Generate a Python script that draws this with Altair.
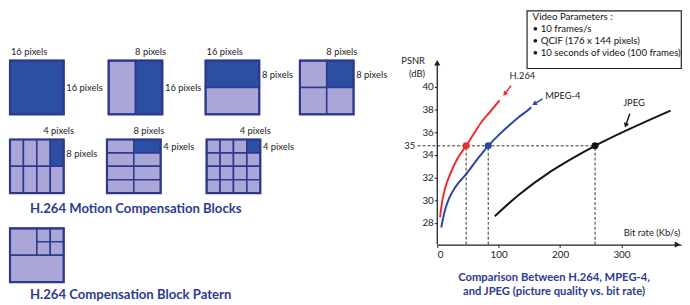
import altair as alt
import pandas as pd

# ---------------- right chart: PSNR vs bit rate ----------------
codecs = ["H.264", "MPEG-4", "JPEG"]
codec_colors = ["#ee2b2e", "#2b46a3", "#151515"]

h264_rate = [4.5, 8, 13, 21, 32, 47, 60, 72, 86, 101.5]
h264_psnr = [28.5, 29.9, 31.1, 32.3, 33.6, 34.8, 35.9, 36.9, 37.8, 38.8]
mpeg4_rate = [6.5, 9, 13, 18.7, 30, 47, 65, 83, 99, 115, 132, 150, 153]
mpeg4_psnr = [27.6, 28.3, 29.2, 30.1, 31.2, 32.3, 33.6, 34.8, 35.7, 36.5, 37.3, 38.05, 38.2]
jpeg_rate = [93.7, 131, 185, 220, 257, 310, 380]
jpeg_psnr = [28.6, 30.4, 32.55, 33.7, 34.8, 36.2, 37.9]

match_rate = [47, 83, 257]
match_psnr = [34.8, 34.8, 34.8]

y_ticks = [28, 30, 32, 34, 36, 38, 40]
x_ticks = [0, 100, 200, 300]

legend_lines = ["Video Parameters :", "• 10 frames/s", "• QCIF (176 x 144 pixels)",
                "• 10 seconds of video (100 frames)"]
right_titles = ["Comparison Between H.264, MPEG-4,", "and JPEG (picture quality vs. bit rate)"]

# ---------------- left diagram: partitions ----------------
block_cols = [1, 2, 1, 2, 4, 2, 4]
block_rows = [1, 1, 2, 2, 2, 4, 4]
block_dark = [(0, 0), (1, 0), (0, 0), (1, 0), (3, 0), (1, 0), (3, 0)]
block_top_label = ["16 pixels", "8 pixels", "16 pixels", "8 pixels", "4 pixels", "8 pixels", "4 pixels"]
block_side_label = ["16 pixels", "16 pixels", "8 pixels", "8 pixels", "8 pixels", "4 pixels", "4 pixels"]
pattern_cells = [(0, 0, 8, 8), (8, 0, 12, 4), (12, 0, 16, 4), (8, 4, 12, 8), (12, 4, 16, 8), (0, 8, 16, 16)]
left_titles = ["H.264 Motion Compensation Blocks", "H.264 Compensation Block Patern"]

# layout of the diagram (diagram units, 1 unit = 1 image pixel of a macroblock)
block_x0 = [0.3, 29.7, 58.6, 86.7, 0.3, 29.2, 58.9]
block_y0 = [15.1, 15.1, 15.1, 15.1, 38.6, 38.6, 38.6]
pattern_x0, pattern_y0 = 0.3, 65.1
U = 3.4  # px per diagram unit
LW_U, LH_U = 124.6, 87.35

DARK, LIGHT, EDGE = "#2c4ea3", "#aaa7d8", "#2d3a8c"
TITLE_BLUE = "#2c3b91"
FONT = "Lato"

# build cell table
cells, outlines, top_lbl, side_lbl = [], [], [], []
for i in range(len(block_cols)):
    nc, nr = block_cols[i], block_rows[i]
    w, h = 16 / nc, 16 / nr
    x0, y0 = block_x0[i], block_y0[i]
    dc, dr = block_dark[i]
    for c in range(nc):
        for r in range(nr):
            cells.append({"x": x0 + c * w, "x2": x0 + (c + 1) * w, "y": y0 + r * h, "y2": y0 + (r + 1) * h,
                          "k": "dark" if (c, r) == (dc, dr) else "light"})
    outlines.append({"x": x0, "x2": x0 + 16, "y": y0, "y2": y0 + 16})
    tx = x0 + 5.7 if nc == 1 else x0 + (dc + 0.5) * w + 0.5
    top_lbl.append({"x": tx, "y": y0 - 2.6, "t": block_top_label[i]})
    side_lbl.append({"x": x0 + 16.8, "y": y0 + (dr + 0.5) * h + 0.3, "t": block_side_label[i]})
for (a, b, c, d) in pattern_cells:
    cells.append({"x": pattern_x0 + a, "x2": pattern_x0 + c, "y": pattern_y0 + b, "y2": pattern_y0 + d, "k": "light"})
outlines.append({"x": pattern_x0, "x2": pattern_x0 + 16, "y": pattern_y0, "y2": pattern_y0 + 16})

lxs = alt.Scale(domain=[0, LW_U], nice=False, zero=False)
lys = alt.Scale(domain=[0, LH_U], nice=False, zero=False, reverse=True)
LX = lambda f: alt.X(f, scale=lxs, axis=None)
LY = lambda f: alt.Y(f, scale=lys, axis=None)

cell_layer = alt.Chart(pd.DataFrame(cells)).mark_rect(stroke=EDGE, strokeWidth=1.6).encode(
    x=LX("x:Q"), x2="x2:Q", y=LY("y:Q"), y2="y2:Q",
    color=alt.Color("k:N", scale=alt.Scale(domain=["dark", "light"], range=[DARK, LIGHT]), legend=None))
outline_layer = alt.Chart(pd.DataFrame(outlines)).mark_rect(fill=None, stroke=EDGE, strokeWidth=2.2).encode(
    x=LX("x:Q"), x2="x2:Q", y=LY("y:Q"), y2="y2:Q")
top_layer = alt.Chart(pd.DataFrame(top_lbl)).mark_text(font=FONT, fontSize=9.5, color="#222",
                                                       align="center", baseline="middle").encode(
    x=LX("x:Q"), y=LY("y:Q"), text="t:N")
side_layer = alt.Chart(pd.DataFrame(side_lbl)).mark_text(font=FONT, fontSize=9.5, color="#222",
                                                         align="left", baseline="middle").encode(
    x=LX("x:Q"), y=LY("y:Q"), text="t:N")
ltitle_df = pd.DataFrame({"x": [6.26, 6.26], "y": [59.4, 84.9], "t": left_titles})
ltitle_layer = alt.Chart(ltitle_df).mark_text(font=FONT, fontSize=13.3, fontWeight="bold", color=TITLE_BLUE,
                                              align="left", baseline="middle").encode(
    x=LX("x:Q"), y=LY("y:Q"), text="t:N")

left = alt.layer(cell_layer, outline_layer, top_layer, side_layer, ltitle_layer).properties(
    width=LW_U * U, height=LH_U * U)

# ---------------- right chart ----------------
XMAX = 397
YMIN, YMAX = 26.1, 46.77
RW = XMAX * 0.6222
RH = (YMAX - YMIN) * 11.5

xs = alt.Scale(domain=[0, XMAX], nice=False, zero=False)
ys = alt.Scale(domain=[YMIN, YMAX], nice=False, zero=False)
x_axis = alt.Axis(values=x_ticks, title=None, grid=False, tickSize=3, labelPadding=2, domainColor="#222",
                  tickColor="#222", labelColor="#222", labelFont=FONT, labelFontSize=10, domainWidth=1.3)
y_axis = alt.Axis(values=y_ticks, title=None, grid=False, domain=False, tickSize=3, labelPadding=1,
                  tickColor="#222", labelColor="#222", labelFont=FONT, labelFontSize=10)
RX = alt.X("rate:Q", scale=xs, axis=x_axis)
RY = alt.Y("psnr:Q", scale=ys, axis=y_axis)
cscale = alt.Scale(domain=codecs, range=codec_colors)

curves_df = pd.DataFrame({
    "rate": h264_rate + mpeg4_rate + jpeg_rate,
    "psnr": h264_psnr + mpeg4_psnr + jpeg_psnr,
    "codec": ["H.264"] * len(h264_rate) + ["MPEG-4"] * len(mpeg4_rate) + ["JPEG"] * len(jpeg_rate),
})
curves = alt.Chart(curves_df).mark_line(strokeWidth=2, interpolate="monotone").encode(
    x=RX, y=RY, color=alt.Color("codec:N", scale=cscale, legend=None))

dash_df = pd.DataFrame({
    "rate": [-32] + match_rate, "rate2": [match_rate[-1]] + match_rate,
    "psnr": [match_psnr[0]] + [YMIN] * 3, "psnr2": [match_psnr[0]] + match_psnr,
})
dashes = alt.Chart(dash_df).mark_rule(strokeDash=[3, 2], color="#333", strokeWidth=1).encode(
    x=RX, x2="rate2:Q", y=RY, y2="psnr2:Q")

pts_df = pd.DataFrame({"rate": match_rate, "psnr": match_psnr, "codec": codecs})
pts = alt.Chart(pts_df).mark_circle(size=50, opacity=1).encode(
    x=RX, y=RY, color=alt.Color("codec:N", scale=cscale, legend=None))

# axis lines with arrow heads
yaxis_df = pd.DataFrame({"rate": [0], "psnr": [YMIN], "psnr2": [42.1]})
yaxis_line = alt.Chart(yaxis_df).mark_rule(color="#222", strokeWidth=1.3).encode(x=RX, y=RY, y2="psnr2:Q")
axis_heads_df = pd.DataFrame({"rate": [0, 391.2], "psnr": [42.12, YMIN], "ang": [0, 90]})
axis_heads = alt.Chart(axis_heads_df).mark_point(shape="triangle-up", filled=True, size=40, color="#222",
                                                 opacity=1).encode(
    x=RX, y=RY, angle=alt.Angle("ang:Q", scale=None))

# label pointer arrows
arrow_df = pd.DataFrame({
    "rate": [120.1, 171.4, 313.5], "psnr": [40.09, 38.93, 37.63],
    "rate2": [109.8, 158.0, 307.0], "psnr2": [39.37, 38.5, 36.6],
    "ang": [219, 239, 199], "codec": codecs,
})
arrow_lines = alt.Chart(arrow_df).mark_rule(strokeWidth=1.5).encode(
    x=RX, x2="rate2:Q", y=RY, y2="psnr2:Q", color=alt.Color("codec:N", scale=cscale, legend=None))
arrow_heads = alt.Chart(arrow_df).mark_point(shape="triangle-up", filled=True, size=30, opacity=1).encode(
    x=alt.X("rate2:Q", scale=xs, axis=x_axis), y=alt.Y("psnr2:Q", scale=ys, axis=y_axis),
    angle=alt.Angle("ang:Q", scale=None), color=alt.Color("codec:N", scale=cscale, legend=None))

def rtext(rows, align, size=10, weight="normal", color="#222"):
    df = pd.DataFrame(rows, columns=["t", "rate", "psnr"])
    return alt.Chart(df).mark_text(font=FONT, fontSize=size, fontWeight=weight, color=color,
                                   align=align, baseline="middle").encode(x=RX, y=RY, text="t:N")

lab_center = rtext([["H.264", 138.7, 40.96], ["JPEG", 320.4, 38.6]], "center", 9.5)
lab_left = rtext([["MPEG-4", 175.7, 39.22]], "left", 9.5)
lab_right = rtext([["35", -36, 34.8], ["PSNR", -20, 42.29], ["(dB)", -20, 41.12],
                   ["Bit rate (Kb/s)", 395.9, 27.12]], "right", 9.5)

legend_box = alt.Chart(pd.DataFrame({"a": [1]})).mark_rect(fill="white", stroke="#222", strokeWidth=1.2).encode(
    x=alt.value(91), x2=alt.value(247.3), y=alt.value(1), y2=alt.value(59.3))
legend_y = [7, 19.3, 31.6, 44]
legend_layers = [
    alt.Chart(pd.DataFrame({"t": [s]})).mark_text(font=FONT, fontSize=9.8, color="#111", align="left",
                                                  baseline="middle").encode(
        text="t:N", x=alt.value(96.6), y=alt.value(py))
    for s, py in zip(legend_lines, legend_y)
]
title_y = [271.5, 285.5]
title_layers = [
    alt.Chart(pd.DataFrame({"t": [s]})).mark_text(font=FONT, fontSize=11.4, fontWeight="bold", color=TITLE_BLUE,
                                                  align="center", baseline="middle").encode(
        text="t:N", x=alt.value(118.3), y=alt.value(py))
    for s, py in zip(right_titles, title_y)
]

right = alt.layer(curves, dashes, pts, yaxis_line, axis_heads, arrow_lines, arrow_heads,
                  lab_center, lab_left, lab_right, legend_box, *legend_layers, *title_layers).properties(
    width=RW, height=RH)

chart = alt.hconcat(left, right, spacing=10, bounds="flush").resolve_scale(
    color="independent", x="independent", y="independent").properties(padding=0).configure_view(
    stroke=None).configure_text(font=FONT)

chart.save("out.html", embed_options={"renderer": "svg", "actions": False})
